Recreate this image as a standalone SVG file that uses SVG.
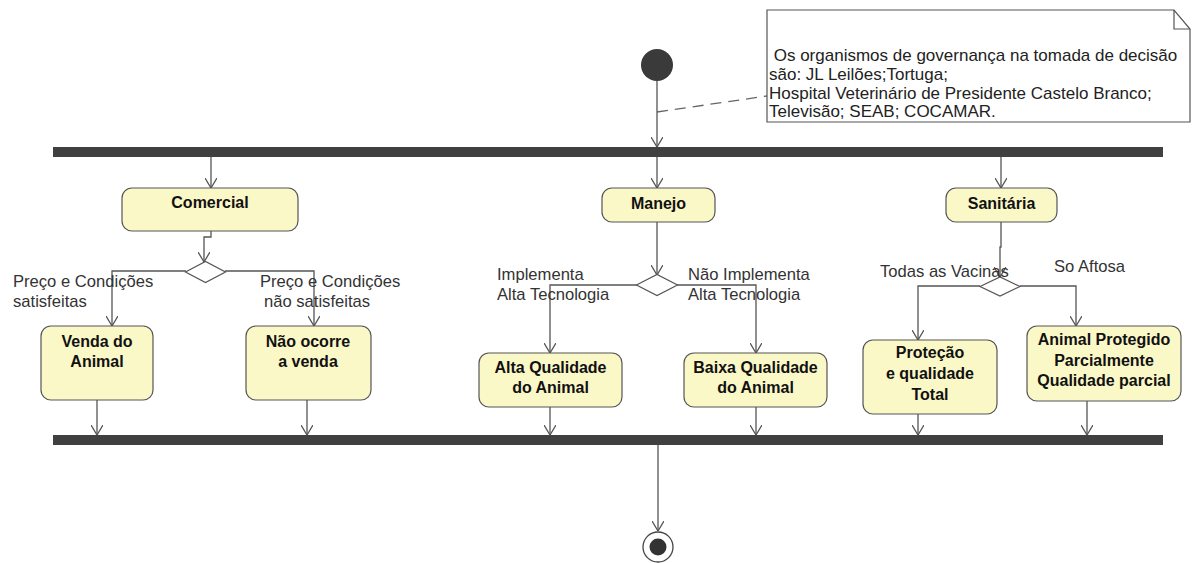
<svg xmlns="http://www.w3.org/2000/svg" width="1193" height="563" viewBox="0 0 1193 563">
  <defs>
    <marker id="arrow" viewBox="0 0 10 12" refX="10" refY="6" markerWidth="10" markerHeight="12" markerUnits="userSpaceOnUse" orient="auto">
      <path d="M0,0 L10,6 L0,12" fill="none" stroke="#555" stroke-width="1.3"/>
    </marker>
    <style>
      .bar { fill: #404040; }
      .action { fill: #fbf8c8; stroke: #555; stroke-width: 1.2; }
      .decision { fill: #fff; stroke: #555; stroke-width: 1.2; }
      .flow { fill: none; stroke: #555; stroke-width: 1.3; marker-end: url(#arrow); }
      .anchor { fill: none; stroke: #666; stroke-width: 1.3; stroke-dasharray: 11 7; }
      .title { font-family: "Liberation Sans", Arial, sans-serif; font-weight: bold; font-size: 16px; fill: #111; text-anchor: middle; }
      .guard { font-family: "Liberation Sans", Arial, sans-serif; font-size: 16.6px; fill: #333; }
      .memo { font-family: "Liberation Sans", Arial, sans-serif; font-size: 17px; fill: #222; }
    </style>
  </defs>
  <rect width="1193" height="563" fill="#fff"/>

  <!-- fork / join bars -->
  <g id="fork"><rect class="bar" x="53" y="147" width="1110" height="10"/></g>
  <g id="join"><rect class="bar" x="53" y="435" width="1110" height="10"/></g>

  <!-- connectors -->
  <g id="connectors">
    <path class="flow" d="M657,81 V147"/>
    <path class="anchor" d="M657,112 L767,96"/>
    <path class="flow" d="M211,157 V188"/>
    <path class="flow" d="M657,157 V188"/>
    <path class="flow" d="M1001,157 V188"/>

    <path class="flow" d="M211,231 V237 H204 V262"/>
    <path class="flow" d="M186,271 H112 V326"/>
    <path class="flow" d="M225,271 H314 V326"/>
    <path class="flow" d="M97,400 V435"/>
    <path class="flow" d="M307,400 V435"/>

    <path class="flow" d="M657,222 V275"/>
    <path class="flow" d="M637,285 H550 V353"/>
    <path class="flow" d="M677,285 H756 V353"/>
    <path class="flow" d="M550,407 V435"/>
    <path class="flow" d="M756,407 V435"/>

    <path class="flow" d="M1001,222 V247 H1000 V277"/>
    <path class="flow" d="M980,286 H918 V340"/>
    <path class="flow" d="M1020,286 H1076 V326"/>
    <path class="flow" d="M918,414 V435"/>
    <path class="flow" d="M1087,401 V435"/>

    <path class="flow" d="M658,445 V531"/>
  </g>

  <!-- initial / final -->
  <g id="start"><circle cx="657" cy="65" r="16" fill="#3a3a3a"/></g>
  <g id="end">
    <circle cx="658" cy="547" r="15" fill="#fff" stroke="#444" stroke-width="1.3"/>
    <circle cx="658" cy="547" r="8.5" fill="#333"/>
  </g>

  <!-- note -->
  <g id="note">
    <path d="M767,10 H1174 L1190,29 V122 H767 Z" fill="#fff" stroke="#555" stroke-width="1.2"/>
    <path d="M1174,10 V29 H1190" fill="none" stroke="#555" stroke-width="1.2"/>
    <text class="memo" x="769" y="61" xml:space="preserve"> Os organismos de governança na tomada de decisão</text>
    <text class="memo" x="769" y="80">são: JL Leilões;Tortuga;</text>
    <text class="memo" x="769" y="98.5">Hospital Veterinário de Presidente Castelo Branco;</text>
    <text class="memo" x="769" y="117">Televisão; SEAB; COCAMAR.</text>
  </g>

  <!-- Comercial branch -->
  <g id="comercial">
    <rect class="action" x="122" y="188" width="176" height="43" rx="10"/>
    <text class="title" x="210" y="208">Comercial</text>
  </g>
  <g id="decisao-comercial">
    <polygon class="decision" points="185.5,272 205.5,261.5 225.5,272 205.5,282.5"/>
    <text class="guard" x="13" y="287">Preço e Condições</text>
    <text class="guard" x="13" y="307">satisfeitas</text>
    <text class="guard" x="260" y="287">Preço e Condições</text>
    <text class="guard" x="264" y="307">não satisfeitas</text>
  </g>
  <g id="venda">
    <rect class="action" x="41" y="326" width="112" height="74" rx="10"/>
    <text class="title" x="97" y="347">Venda do</text>
    <text class="title" x="97" y="367">Animal</text>
  </g>
  <g id="nao-venda">
    <rect class="action" x="246" y="326" width="125" height="74" rx="10"/>
    <text class="title" x="308" y="347">Não ocorre</text>
    <text class="title" x="308" y="367">a venda</text>
  </g>

  <!-- Manejo branch -->
  <g id="manejo">
    <rect class="action" x="602" y="188" width="113" height="34" rx="10"/>
    <text class="title" x="658.5" y="209">Manejo</text>
  </g>
  <g id="decisao-manejo">
    <polygon class="decision" points="636.5,285 657,274.5 677.5,285 657,295.5"/>
    <text class="guard" x="497" y="280">Implementa</text>
    <text class="guard" x="497" y="300">Alta Tecnologia</text>
    <text class="guard" x="688" y="280">Não Implementa</text>
    <text class="guard" x="688" y="300">Alta Tecnologia</text>
  </g>
  <g id="alta">
    <rect class="action" x="479" y="353" width="143" height="54" rx="10"/>
    <text class="title" x="550.5" y="373">Alta Qualidade</text>
    <text class="title" x="550.5" y="393">do Animal</text>
  </g>
  <g id="baixa">
    <rect class="action" x="684" y="353" width="143" height="54" rx="10"/>
    <text class="title" x="755.5" y="373">Baixa Qualidade</text>
    <text class="title" x="755.5" y="393">do Animal</text>
  </g>

  <!-- Sanitaria branch -->
  <g id="sanitaria">
    <rect class="action" x="946" y="188" width="111" height="34" rx="10"/>
    <text class="title" x="1001.5" y="209">Sanitária</text>
  </g>
  <g id="decisao-sanitaria">
    <polygon class="decision" points="980,286.5 1000,277 1020,286.5 1000,296"/>
    <text class="guard" x="880" y="277">Todas as Vacinas</text>
    <text class="guard" x="1054" y="272">So Aftosa</text>
  </g>
  <g id="protecao">
    <rect class="action" x="863" y="340" width="134" height="74" rx="10"/>
    <text class="title" x="930" y="358">Proteção</text>
    <text class="title" x="930" y="379">e qualidade</text>
    <text class="title" x="930" y="400">Total</text>
  </g>
  <g id="parcial">
    <rect class="action" x="1027" y="326" width="154" height="75" rx="10"/>
    <text class="title" x="1104" y="345">Animal Protegido</text>
    <text class="title" x="1104" y="366">Parcialmente</text>
    <text class="title" x="1104" y="386">Qualidade parcial</text>
  </g>
</svg>
